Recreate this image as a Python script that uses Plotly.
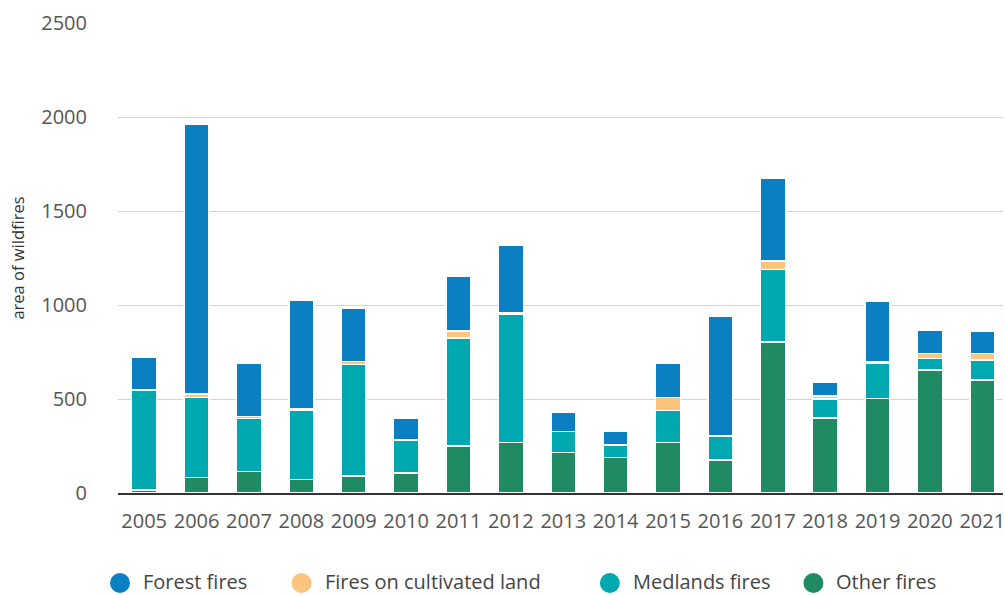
import plotly.graph_objects as go

# Burnt area by fire type, 2005-2021
years = [str(y) for y in range(2005, 2022)]
other_fires = [15, 82, 115, 73, 90, 106, 250, 268, 216, 190, 268, 176, 803, 400, 502, 654, 601]
medlands_fires = [530, 425, 280, 368, 594, 172, 575, 682, 110, 66, 170, 124, 385, 100, 190, 62, 106]
cultivated_fires = [3, 20, 12, 8, 15, 3, 38, 8, 2, 2, 70, 5, 45, 15, 5, 25, 35]
forest_fires = [175, 1432, 283, 578, 285, 116, 289, 361, 101, 70, 182, 636, 441, 74, 321, 126, 116]

y_ticks = [0, 500, 1000, 1500, 2000, 2500]

series = [
    ("Other fires", other_fires, "#208b63"),
    ("Medlands fires", medlands_fires, "#00a8b0"),
    ("Fires on cultivated land", cultivated_fires, "#fbc57f"),
    ("Forest fires", forest_fires, "#0a7fc2"),
]

# legend row: order and marker-centre positions in page pixels
legend_order = ["Forest fires", "Fires on cultivated land", "Medlands fires", "Other fires"]
legend_centres = [120, 302, 611, 815]
legend_marker_y = 583
legend_text_y = 581

W, H = 1005, 595
M_L, M_R, M_T, M_B = 118, 0, 23, 102
plot_w, plot_h = W - M_L - M_R, H - M_T - M_B


def to_paper(px, py):
    return (px - M_L) / plot_w, (H - M_B - py) / plot_h


fig = go.Figure()

for name, vals, color in series:
    fig.add_trace(go.Bar(
        x=years, y=vals, name=name, showlegend=False,
        marker=dict(color=color, line=dict(color="white", width=1.5)),
    ))

# custom horizontal legend with round swatches
colors = {n: c for n, _, c in series}
for name, cx in zip(legend_order, legend_centres):
    px, py = to_paper(cx, legend_marker_y)
    tx, ty = to_paper(cx + 22, legend_text_y)
    fig.add_shape(
        type="circle", xref="paper", yref="paper",
        xsizemode="pixel", ysizemode="pixel", xanchor=px, yanchor=py,
        x0=-10, x1=10, y0=-10, y1=10,
        fillcolor=colors[name], line=dict(width=0),
    )
    fig.add_annotation(
        x=tx, y=ty, xref="paper", yref="paper", text=name, showarrow=False,
        xanchor="left", yanchor="middle", borderpad=0,
        font=dict(size=20, color="#444", family="Open Sans"),
    )

fig.update_layout(
    width=W, height=H,
    margin=dict(l=M_L, r=M_R, t=M_T, b=M_B),
    barmode="stack", bargap=0.524, showlegend=False,
    plot_bgcolor="white", paper_bgcolor="white",
    font=dict(family="Open Sans", color="#555"),
    xaxis=dict(
        type="category", range=[-0.5, 16.395],
        showline=True, linecolor="#333", linewidth=1.5,
        showgrid=False, ticks="outside", ticklen=9, tickcolor="rgba(0,0,0,0)",
        tickfont=dict(size=20, color="#555"),
    ),
    yaxis=dict(
        range=[0, 2500], tickvals=y_ticks, showgrid=True,
        gridcolor="#d4d4d4", gridwidth=1, zeroline=False,
        ticks="outside", ticklen=26, tickcolor="rgba(0,0,0,0)",
        tickfont=dict(size=20, color="#555"),
        title=dict(text="area of wildfires", font=dict(size=16.5, color="#333"), standoff=12),
    ),
)

fig.write_html("out.html")
